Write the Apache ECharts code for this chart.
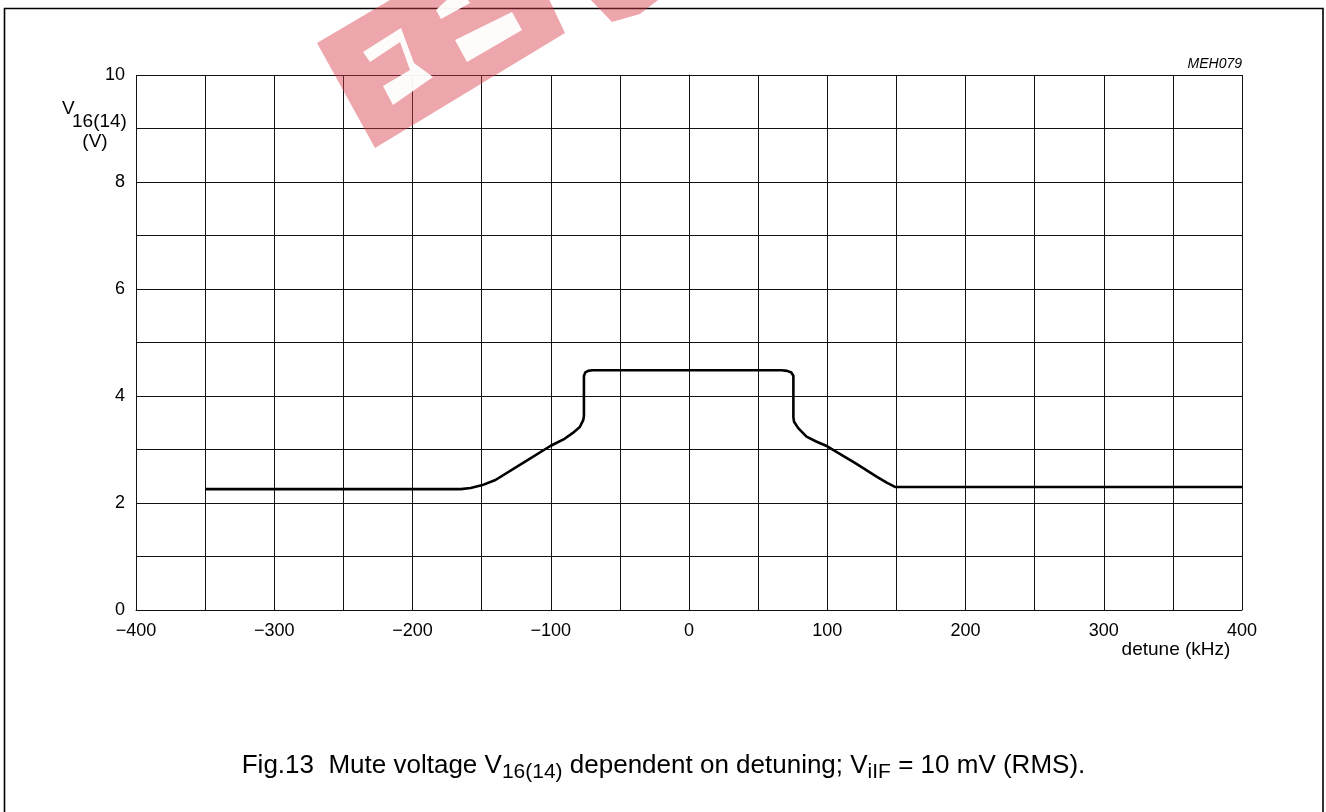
<!DOCTYPE html>
<html><head><meta charset="utf-8">
<script src="https://cdn.jsdelivr.net/npm/echarts@6/dist/echarts.min.js"></script>
<style>html,body{margin:0;padding:0;background:#fff}#c{width:1326px;height:812px}</style>
</head><body><div id="c"></div>
<script>
// ---- data ----
const detune  = [-350, -165, -158, -150, -140, -120, -100, -90, -84, -79, -76.5, -76, -76, -75, -73, -70, 0, 67, 71, 74, 75.5, 75.5, 76, 79, 85, 92, 100, 120, 136, 143, 149, 400];
const voltage = [2.26, 2.26, 2.28, 2.33, 2.43, 2.75, 3.07, 3.20, 3.31, 3.42, 3.55, 3.62, 4.38, 4.44, 4.47, 4.48, 4.48, 4.48, 4.47, 4.44, 4.38, 3.60, 3.52, 3.40, 3.24, 3.15, 3.06, 2.75, 2.49, 2.38, 2.30, 2.30];
const xTickValues = [-400, -300, -200, -100, 0, 100, 200, 300, 400];
const xTickLabels = ['\u2212400', '\u2212300', '\u2212200', '\u2212100', '0', '100', '200', '300', '400'];
const yTickValues = [0, 2, 4, 6, 8, 10];
const yTickLabels = ['0', '2', '4', '6', '8', '10'];

const FONT = "'Liberation Sans', Arial, Helvetica, sans-serif";
const chart = echarts.init(document.getElementById('c'), null, {renderer: 'canvas'});

const ctx = document.createElement('canvas').getContext('2d');
function measure(t, size, style) { ctx.font = (style || '') + ' ' + size + 'px ' + FONT; return ctx.measureText(t).width; }

// caption with subscripts
const capSegs = [
  {t: 'Fig.13  Mute voltage V', s: 26, dy: 0},
  {t: '16(14)', s: 21, dy: 6},
  {t: ' dependent on detuning; V', s: 26, dy: 0},
  {t: 'iIF', s: 21, dy: 6},
  {t: ' = 10 mV (RMS).', s: 26, dy: 0}
];
const capCenter = 663.5, capY = 766;
let total = capSegs.reduce((a, g) => a + measure(g.t, g.s), 0);
let cx = capCenter - total / 2;
const graphics = [];
capSegs.forEach(g => {
  graphics.push({type: 'text', x: cx, y: capY + g.dy, z: 10,
    style: {text: g.t, font: g.s + 'px ' + FONT, fill: '#000', textAlign: 'left', textVerticalAlign: 'middle'}});
  cx += measure(g.t, g.s);
});

// y axis name
graphics.push({type: 'text', x: 62, y: 109, style: {text: 'V', font: '19px ' + FONT, fill: '#000', textVerticalAlign: 'middle'}});
graphics.push({type: 'text', x: 72, y: 122, style: {text: '16(14)', font: '19px ' + FONT, fill: '#000', textVerticalAlign: 'middle'}});
graphics.push({type: 'text', x: 95, y: 142, style: {text: '(V)', font: '19px ' + FONT, fill: '#000', textAlign: 'center', textVerticalAlign: 'middle'}});
// x axis name
graphics.push({type: 'text', x: 1176, y: 650, style: {text: 'detune (kHz)', font: '19px ' + FONT, fill: '#000', textAlign: 'center', textVerticalAlign: 'middle'}});
// figure code
graphics.push({type: 'text', x: 1242, y: 64, style: {text: 'MEH079', font: 'italic 14px ' + FONT, fill: '#000', textAlign: 'right', textVerticalAlign: 'middle'}});
// frame
graphics.push({type: 'rect', shape: {x: 4.5, y: 8.5, width: 1318.5, height: 830}, style: {fill: 'none', stroke: '#000', lineWidth: 1.6}, z: 1});

// watermark (approximate)
const wmRed = 'rgba(214,60,70,0.45)';
graphics.push({type: 'polygon', z: 20, shape: {points: [[317,43],[395,-3],[548,-3],[565,33],[375,148]]}, style: {fill: wmRed}});
graphics.push({type: 'polygon', z: 20, shape: {points: [[588,-3],[662,-3],[640,14],[612,22]]}, style: {fill: wmRed}});
graphics.push({type: 'polygon', z: 21, shape: {points: [[363,52],[401,28],[414,63],[433,77],[393,105],[383,86],[410,70],[400,42],[370,62]]}, style: {fill: 'rgba(255,255,255,0.95)'}});
graphics.push({type: 'polygon', z: 21, shape: {points: [[455,40],[467,62],[522,30],[512,12]]}, style: {fill: 'rgba(255,255,255,0.95)'}});
graphics.push({type: 'polygon', z: 21, shape: {points: [[436,10],[441,19],[470,3],[466,-3],[450,-3]]}, style: {fill: 'rgba(255,255,255,0.95)'}});

const lineCol = '#111';
chart.setOption({
  animation: false,
  backgroundColor: '#fff',
  grid: {left: 136, right: 84, top: 75, bottom: 202, containLabel: false},
  xAxis: {
    type: 'value', min: -400, max: 400, interval: 50,
    axisLine: {show: true, lineStyle: {color: lineCol, width: 1}},
    axisTick: {show: false},
    splitLine: {show: true, lineStyle: {color: lineCol, width: 1}},
    axisLabel: {margin: 12, color: '#000', fontSize: 18, fontFamily: FONT,
      formatter: v => { const i = xTickValues.indexOf(v); return i >= 0 ? xTickLabels[i] : ''; }}
  },
  yAxis: {
    type: 'value', min: 0, max: 10, interval: 1,
    axisLine: {show: true, lineStyle: {color: lineCol, width: 1}},
    axisTick: {show: false},
    splitLine: {show: true, lineStyle: {color: lineCol, width: 1}},
    axisLabel: {margin: 11, color: '#000', fontSize: 18, fontFamily: FONT,
      formatter: v => { const i = yTickValues.indexOf(v); return i >= 0 ? yTickLabels[i] : ''; }}
  },
  series: [{
    type: 'line', symbol: 'none', smooth: false,
    lineStyle: {color: '#000', width: 2.6},
    data: detune.map((x, i) => [x, voltage[i]])
  }],
  graphic: graphics
});
</script></body></html>
